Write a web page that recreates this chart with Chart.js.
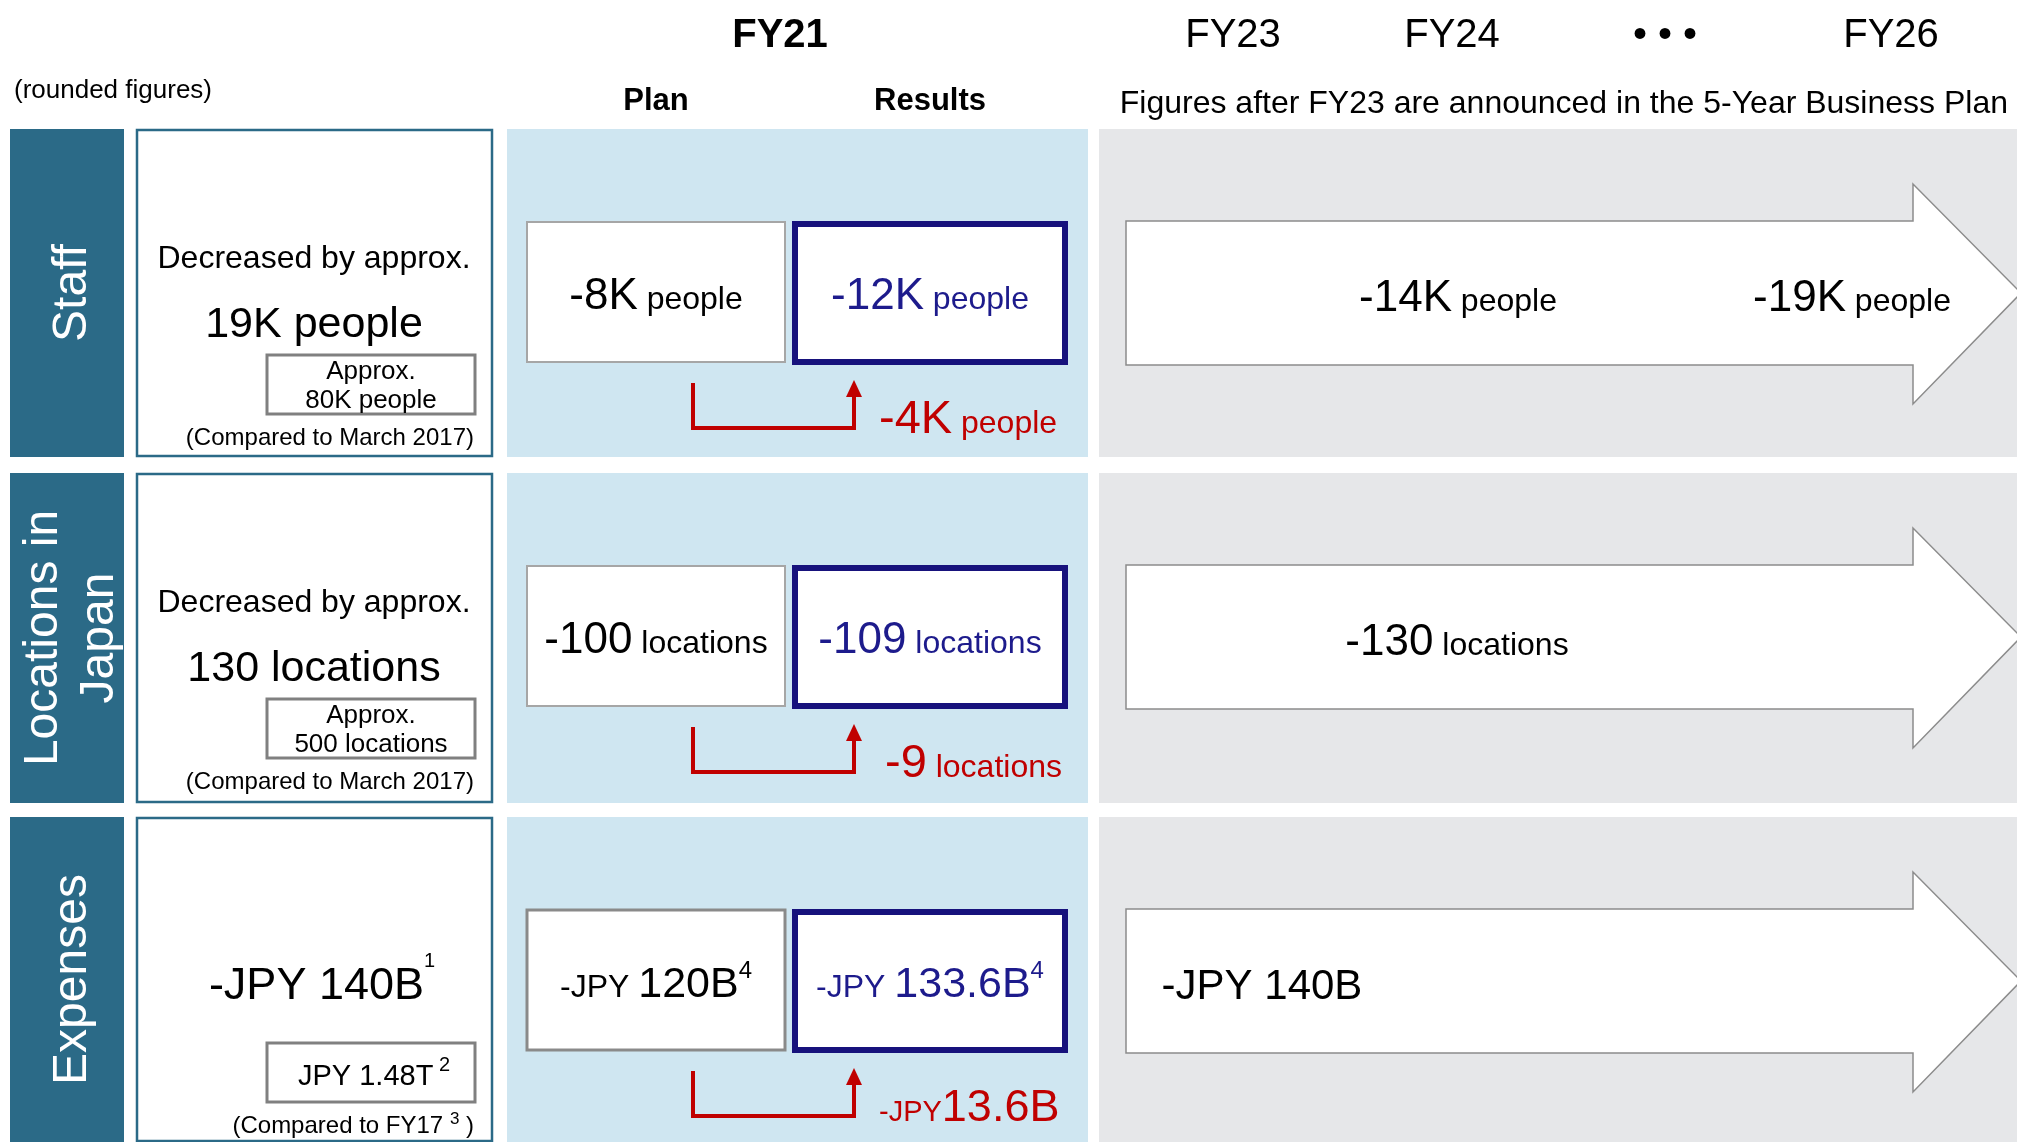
<!DOCTYPE html>
<html>
<head>
<meta charset="utf-8">
<title>Staff, locations and expenses</title>
<script src="https://cdn.jsdelivr.net/npm/chart.js@4.4.1/dist/chart.umd.min.js"></script>
<style>
  html, body { margin: 0; padding: 0; background: #fff; overflow: hidden; }
  #wrap { width: 2017px; height: 1142px; }
</style>
</head>
<body>
<div id="wrap"><canvas id="chart" width="2017" height="1142"></canvas></div>
<script>
// ── Data ────────────────────────────────────────────────────────────────
const rowNames = [['Staff'], ['Locations in', 'Japan'], ['Expenses']];
const summaryLead = ['Decreased by approx.', 'Decreased by approx.', null];
const summaryValue = ['19K people', '130 locations', '-JPY 140B'];
const summaryMark = [null, null, '1'];
const baseLines = [['Approx.', '80K people'], ['Approx.', '500 locations'], ['JPY 1.48T']];
const baseMark = [null, null, '2'];
const compareTo = ['March 2017', 'March 2017', 'FY17'];
const compareMark = [null, null, '3'];

const fy21Columns = ['Plan', 'Results'];
const planValues = [-8, -100, -120];
const resultValues = [-12, -109, -133.6];
const gapValues = [-4, -9, -13.6];
const fy23Values = [-14, -130, -140];
const fy26Values = [-19, null, null];
const jpyMark = '4';

const yearLabels = ['FY23', 'FY24', '\u2022 \u2022 \u2022', 'FY26'];
const futureNote = 'Figures after FY23 are announced in the 5-Year Business Plan';
const roundNote = '(rounded figures)';

// ── Layout (reference pixels) ─────────────────────────────────────────
const W = 2017, H = 1142;
const FONT = '"Liberation Sans", Arial, Helvetica, sans-serif';
const rowTop = [129, 473, 817];
const rowBottom = [457, 803, 1142];
const C = {
  teal: '#2b6a87', blue: '#cfe6f1', grey: '#e6e7e9',
  navy: '#17127c', navyText: '#1d1b8c', red: '#c00000', ink: '#000'
};
const yearX = [1233, 1452, 1665, 1891];
const fy23X = [1458, 1457, 1262];
const fy26X = [1852, null, null];

// ── Helpers ───────────────────────────────────────────────────────────
function runs(ctx, list, x, y, align) {
  let total = 0;
  const w = list.map(r => {
    ctx.font = `${r.bold ? 'bold ' : ''}${r.size}px ${FONT}`;
    const m = ctx.measureText(r.t).width;
    total += m;
    return m;
  });
  let cx = align === 'center' ? x - total / 2 : align === 'right' ? x - total : x;
  ctx.textAlign = 'left';
  ctx.textBaseline = 'alphabetic';
  list.forEach((r, i) => {
    ctx.font = `${r.bold ? 'bold ' : ''}${r.size}px ${FONT}`;
    ctx.fillStyle = r.color || C.ink;
    ctx.fillText(r.t, cx, y + (r.rise || 0));
    cx += w[i];
  });
}

function fmt(row, v, color, kind) {
  const a = Math.abs(v);
  if (row === 0) return [{ t: `-${a}K`, size: 44, color }, { t: ' people', size: 32, color }];
  if (row === 1) return [{ t: `-${a}`, size: 44, color }, { t: ' locations', size: 32, color }];
  if (kind === 'future') return [{ t: `-JPY ${a}B`, size: 42, color }];
  if (kind === 'gap') return [{ t: '-JPY', size: 29, color }, { t: `${a}B`, size: 45, color }];
  return [{ t: '-JPY ', size: 32, color }, { t: `${a}B`, size: 43, color },
          { t: jpyMark, size: 24, color, rise: -19 }];
}

// ── Drawing plugin ────────────────────────────────────────────────────
const infographic = {
  id: 'infographic',
  beforeDraw(chart) {
    const ctx = chart.ctx;
    const X = v => chart.scales.x.getPixelForValue(v);
    const Y = v => chart.scales.y.getPixelForValue(v);
    const box = (x0, y0, x1, y1, fill, stroke, lw) => {
      const l = X(x0), t = Y(y0), w = X(x1) - l, h = Y(y1) - t;
      if (fill) { ctx.fillStyle = fill; ctx.fillRect(l, t, w, h); }
      if (stroke) { ctx.strokeStyle = stroke; ctx.lineWidth = lw; ctx.strokeRect(l, t, w, h); }
    };
    ctx.save();
    ctx.fillStyle = '#fff';
    ctx.fillRect(0, 0, chart.width, chart.height);

    // header
    runs(ctx, [{ t: 'FY21', size: 40, bold: true }], X(780), Y(47), 'center');
    yearLabels.forEach((t, i) => runs(ctx, [{ t, size: 40 }], X(yearX[i]), Y(47), 'center'));
    runs(ctx, [{ t: roundNote, size: 26 }], X(14), Y(98), 'left');
    fy21Columns.forEach((t, i) => runs(ctx, [{ t, size: 31, bold: true }], X(i ? 930 : 656), Y(110), 'center'));
    runs(ctx, [{ t: futureNote, size: 32 }], X(2008), Y(113), 'right');

    rowNames.forEach((names, r) => {
      const top = rowTop[r], bot = rowBottom[r];
      const mid = (top + bot) / 2;

      // row name band
      box(10, top, 124, bot, C.teal);
      ctx.save();
      ctx.translate(X(67), Y(mid));
      ctx.rotate(-Math.PI / 2);
      ctx.fillStyle = '#fff';
      ctx.font = `48px ${FONT}`;
      ctx.textAlign = 'center';
      ctx.textBaseline = 'alphabetic';
      const offs = names.length === 1 ? [19] : [-10, 46];
      names.forEach((n, i) => ctx.fillText(n, 0, offs[i]));
      ctx.restore();

      // summary box
      box(137, top + 1, 492, Math.min(bot - 1, H + 4), '#fff', C.teal, 2.5);
      if (summaryLead[r]) runs(ctx, [{ t: summaryLead[r], size: 32 }], X(314), Y(top + 139), 'center');
      const sv = [{ t: summaryValue[r], size: r === 2 ? 45 : 43 }];
      if (summaryMark[r]) sv.push({ t: summaryMark[r], size: 20, rise: -32 });
      runs(ctx, sv, X(r === 2 ? 322 : 314), Y(top + (r === 2 ? 182 : 208)), 'center');

      box(267, top + 226, 475, top + 285, '#fff', '#808080', 3);
      const bl = baseLines[r];
      if (bl.length === 2) {
        runs(ctx, [{ t: bl[0], size: 26 }], X(371), Y(top + 250), 'center');
        runs(ctx, [{ t: bl[1], size: 26 }], X(371), Y(top + 279), 'center');
      } else {
        runs(ctx, [{ t: bl[0], size: 29 }, { t: ' ' + baseMark[r], size: 20, rise: -14 }], X(374), Y(top + 268), 'center');
      }
      const cmp = compareMark[r]
        ? [{ t: `(Compared to ${compareTo[r]} `, size: 24 }, { t: compareMark[r], size: 17, rise: -9 }, { t: ' )', size: 24 }]
        : [{ t: `(Compared to ${compareTo[r]})`, size: 24 }];
      runs(ctx, cmp, X(474), Y(top + 316), 'right');

      // FY21 panel
      box(507, top, 1088, bot, C.blue);
      box(527, top + 93, 785, top + 233, '#fff', r === 2 ? '#8a8a8a' : '#a6a6a6', r === 2 ? 3 : 2);
      box(795, top + 95, 1065, top + 233, '#fff', C.navy, 6);
      runs(ctx, fmt(r, planValues[r], C.ink), X(656), Y(top + 180), 'center');
      runs(ctx, fmt(r, resultValues[r], C.navyText), X(930), Y(top + 180), 'center');

      // elbow arrow
      ctx.strokeStyle = C.red;
      ctx.lineWidth = 4;
      ctx.lineJoin = 'miter';
      ctx.beginPath();
      ctx.moveTo(X(693), Y(top + 254));
      ctx.lineTo(X(693), Y(top + 299));
      ctx.lineTo(X(854), Y(top + 299));
      ctx.lineTo(X(854), Y(top + 266));
      ctx.stroke();
      ctx.fillStyle = C.red;
      ctx.beginPath();
      ctx.moveTo(X(846), Y(top + 268));
      ctx.lineTo(X(862), Y(top + 268));
      ctx.lineTo(X(854), Y(top + 251));
      ctx.closePath();
      ctx.fill();
      const gap = fmt(r, gapValues[r], C.red, 'gap');
      if (r < 2) gap[0].size = 47;
      runs(ctx, gap, X(r === 1 ? 885 : 879), Y(top + 304), 'left');

      // future panel
      box(1099, top, W, bot, C.grey);
      ctx.fillStyle = '#fff';
      ctx.strokeStyle = '#8c8c8c';
      ctx.lineWidth = 1.5;
      ctx.beginPath();
      ctx.moveTo(X(1126), Y(top + 92));
      ctx.lineTo(X(1913), Y(top + 92));
      ctx.lineTo(X(1913), Y(top + 55));
      ctx.lineTo(X(2021), Y(top + 164));
      ctx.lineTo(X(1913), Y(top + 275));
      ctx.lineTo(X(1913), Y(top + 236));
      ctx.lineTo(X(1126), Y(top + 236));
      ctx.closePath();
      ctx.fill();
      ctx.stroke();
      runs(ctx, fmt(r, fy23Values[r], C.ink, 'future'), X(fy23X[r]), Y(top + 182), 'center');
      if (fy26Values[r] != null) runs(ctx, fmt(r, fy26Values[r], C.ink, 'future'), X(fy26X[r]), Y(top + 182), 'center');
    });
    ctx.restore();
  }
};

new Chart(document.getElementById('chart'), {
  type: 'scatter',
  data: { datasets: [{ data: [], pointRadius: 0 }] },
  options: {
    responsive: false,
    animation: false,
    layout: { padding: 0 },
    plugins: { legend: { display: false }, tooltip: { enabled: false } },
    scales: {
      x: { type: 'linear', min: 0, max: W, display: false },
      y: { type: 'linear', min: 0, max: H, reverse: true, display: false }
    }
  },
  plugins: [infographic]
});
</script>
</body>
</html>
